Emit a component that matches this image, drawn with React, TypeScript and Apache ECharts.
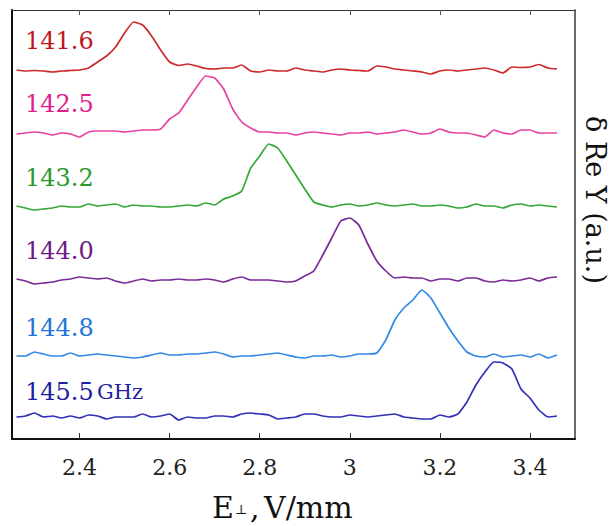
import React, { useEffect, useRef } from "react";
import * as echarts from "echarts";

// E-field grid (V/mm)
const xValues: number[] = [];
for (let i = 0; i <= 60; i++) xValues.push(+(2.26 + 0.02 * i).toFixed(2));

const frequencies = ["141.6", "142.5", "143.2", "144.0", "144.8", "145.5 GHz"];
const traceOffsets = [369, 307, 233, 159, 84, 22];
const lineColors = ["#cc2a2a", "#e8409e", "#34a834", "#7a2a96", "#3088e8", "#3030b8"];
const textColors = ["#c0141c", "#e0208c", "#2a9a2a", "#6c1a86", "#2075d8", "#1e1ea0"];
const xTicks = [2.4, 2.6, 2.8, 3.0, 3.2, 3.4];

const s1416 = [0, -1, -0.5, -1, -2, -1, -0.5, 0, 2, 8, 14, 23, 37, 48, 45, 34, 20, 8, 4.5, 6, 4, 1.5, 1, 2, 2, 5, -1, -2, 0, -1, -1, 2, 0, -1, -2, 0, 1, 0, -0.5, -1, 4, 3, 1, 0, -1, -2, -4, -1, 0, -1, 0, 1, 2, 0, -3, 3, 2.5, 3, 5.5, 2, 1];
const s1425 = [-2, -1, 0, -1, -3, -1, -2, -5, 0, 1, 1, 1, 0, 1, 2, 2, 3, 13, 19, 32, 45, 56, 54, 43, 23, 10, 4, 0, 0, -1, -1, -3, -1, 0, -1, -2, -3, -1, -1, 0, -2, -1, 0, 2, 0, -2, -1, 3, 0, -1, -1, -3, -5, 2, -1, -2, 2, 2, -1, -1, -1];
const s1432 = [0, -2, -4, -3, -2, 0, -1, -1, 2, 0, 1, 2, -1, 1, 0, 0, -1, -1, 0, 1, 0, 3, 1, 7, 10, 15, 38, 50, 62, 58, 45, 31, 17, 4, 1, -1, 1, 2, 0, 1, 3, 1, 0, 1, 2, 0, 0, 1, 0, -2, -1, 2, 0, 0, -2, 1, 2, 0, 1, 0, -1];
const s1440 = [1, -1, -4, -3, -2, 0, 1, 3, 2, 1, 2, -1, -3, -1, 1, -1, 0, 0, 1, 0, 0, 1, 0, -2, 1, 3, 0, 0, 0, -1, -2, -1, 4, 9, 25, 42, 59, 62, 55, 36, 19, 9, 2, 3, 2, 2, -1, 1, 1, -1, 2, 2, -1, -2, 0, -1, 0, 2, -1, 2, 3];
const s1448 = [-1, -1, 3, 1, -1, -1, 2, -1, 0, 1, 0, -1, -2, -3, -2, 0, 2, 0, 0, 1, 1, 2, 3, 1, -2, -1, -1, 0, 1, 2, 0, -2, -3, -1, -1, 0, -2, -1, 1, 1, 2, 15, 35, 47, 55, 65, 57, 42, 27, 14, 3, -1, -2, 1, -2, -1, 0, -2, 1, -3, 0];
const s1455 = [0, 1, 4, 0, 1, -1, 1, -1, 2, 1, -2, 0, 0, 0, 3, 0, 1, 3, -3, 0, -1, -1, 1, 1, 0, 3, 4, 3, 2, -2, -1, 0, 3, 3, 1, 0, 0, 2, 1, 0, 1, 2, 3, 0, -1, -2, -2, 2, 0, 3, 15, 32, 45, 55, 54, 48, 28, 19, 7, 0, 1];

const signals = [s1416, s1425, s1432, s1440, s1448, s1455];
const labelYs = [43, 106, 180, 253, 330, 394];

const SERIF = "DejaVu Serif";

export default function App() {
  const ref = useRef<HTMLDivElement>(null);
  useEffect(() => {
    if (!ref.current) return;
    const chart = echarts.init(ref.current, null, { renderer: "svg" });
    const series = signals.map((sig, k) => ({
      type: "line",
      name: frequencies[k],
      showSymbol: false,
      smooth: 0.15,
      lineStyle: { color: lineColors[k], width: 1.7 },
      itemStyle: { color: lineColors[k] },
      data: sig.map((v, i) => [xValues[i], traceOffsets[k] + v]),
    }));
    const labelGraphics = frequencies.map((f, k) => {
      const parts = f.split(" ");
      return {
        type: "text",
        left: 25,
        top: labelYs[k] - 14,
        style: {
          text: parts.length > 1 ? `{n|${parts[0]}} {u|${parts[1]}}` : `{n|${parts[0]}}`,
          rich: {
            n: { fontFamily: SERIF, fontSize: 24, fill: textColors[k], height: 28 },
            u: { fontFamily: SERIF, fontSize: 21, fill: textColors[k], height: 28 },
          },
          fill: textColors[k],
        },
      };
    });
    chart.setOption({
      animation: false,
      grid: { left: 12, right: 36, top: 10, bottom: 87 },
      xAxis: [
        {
          type: "value",
          min: 2.25,
          max: 3.5,
          position: "bottom",
          axisLine: { show: true, onZero: false, lineStyle: { color: "#111", width: 2 } },
          axisTick: { show: true, inside: true, length: 6, customValues: xTicks, lineStyle: { color: "#333", width: 1 } },
          axisLabel: {
            customValues: xTicks,
            margin: 17,
            fontFamily: SERIF,
            fontSize: 22,
            color: "#222",
            formatter: (v: number) => String(+v.toFixed(1)),
          },
          splitLine: { show: false },
        },
        {
          type: "value",
          min: 2.25,
          max: 3.5,
          position: "top",
          axisLine: { show: true, onZero: false, lineStyle: { color: "#333", width: 1.2 } },
          axisTick: { show: true, inside: true, length: 5, customValues: xTicks, lineStyle: { color: "#555", width: 1 } },
          axisLabel: { show: false },
          splitLine: { show: false },
        },
      ],
      yAxis: [
        {
          type: "value",
          min: 0,
          max: 429,
          position: "left",
          axisLine: { show: true, onZero: false, lineStyle: { color: "#111", width: 2 } },
          axisTick: { show: false },
          axisLabel: { show: false },
          splitLine: { show: false },
        },
        {
          type: "value",
          min: 0,
          max: 429,
          position: "right",
          axisLine: { show: true, onZero: false, lineStyle: { color: "#444", width: 1.6 } },
          axisTick: { show: false },
          axisLabel: { show: false },
          splitLine: { show: false },
        },
      ],
      series,
      graphic: [
        ...labelGraphics,
        {
          type: "text",
          x: 212,
          y: 492,
          style: { text: "E", fontFamily: SERIF, fontSize: 30, fill: "#111" },
        },
        {
          type: "text",
          x: 235,
          y: 503,
          style: { text: "⊥", fontFamily: SERIF, fontSize: 13, fill: "#111" },
        },
        {
          type: "text",
          x: 250,
          y: 492,
          style: { text: ",", fontFamily: SERIF, fontSize: 30, fill: "#111" },
        },
        {
          type: "text",
          x: 264,
          y: 492,
          style: { text: "V/mm", fontFamily: SERIF, fontSize: 30, fill: "#111" },
        },
        {
          type: "text",
          x: 595,
          y: 200,
          rotation: -Math.PI / 2,
          style: {
            text: "δ Re Y (a.u.)",
            fontFamily: SERIF,
            fontSize: 27,
            fill: "#111",
            align: "center",
            verticalAlign: "middle",
          },
        },
      ],
    });
    return () => chart.dispose();
  }, []);
  return <div ref={ref} style={{ width: 611, height: 526, position: "absolute", left: 0, top: 0 }} />;
}
